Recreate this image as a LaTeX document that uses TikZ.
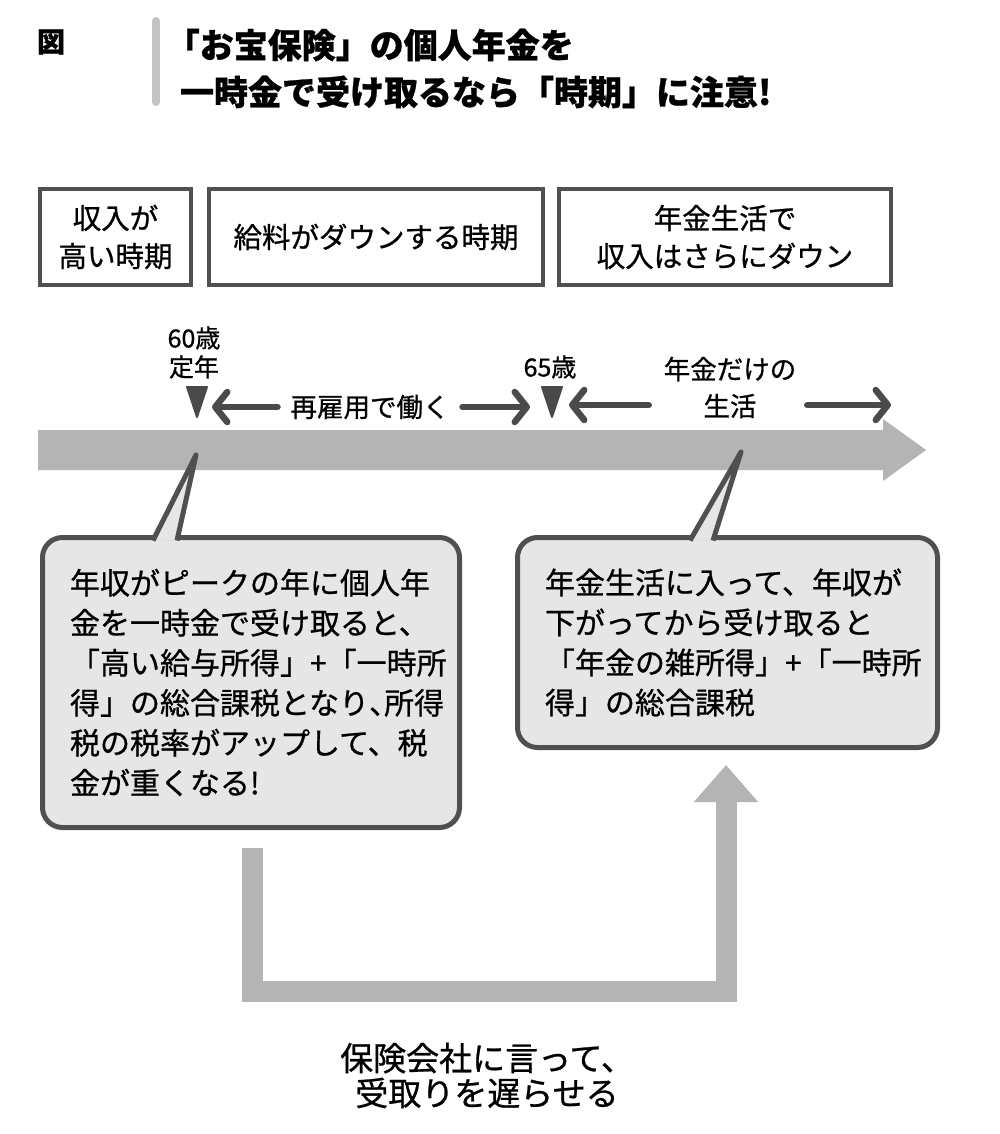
\documentclass[tikz,border=0pt]{standalone}
\usepackage{fontspec}
\setmainfont{Noto Sans CJK JP}[FakeBold=0.8]
\usetikzlibrary{arrows.meta,calc}
\definecolor{bord}{HTML}{505050}
\definecolor{bandc}{HTML}{B4B4B4}
\definecolor{calfill}{HTML}{E6E6E6}
\definecolor{barc}{HTML}{C4C4C4}
\definecolor{darkc}{HTML}{4A4A4A}
\begin{document}
\begin{tikzpicture}[x=1pt,y=-1pt,
  topbox/.style={draw=bord, line width=4.5pt, fill=white, inner sep=0pt, outer sep=0pt, align=center, font=\fontsize{28.5}{38}\selectfont},
  callout/.style={draw=bord, line width=5pt, fill=calfill, rounded corners=20pt, inner sep=0pt, outer sep=0pt, align=left, font=\fontsize{30}{40}\selectfont},
  tail/.style={draw=bord, line width=5pt, fill=calfill, line join=round},
  lbl/.style={inner sep=0pt, outer sep=0pt, align=center},
  darr/.style={draw=darkc, line width=6.5pt, line cap=round, -{Straight Barb[length=12pt,width=30pt,round]}},
  ubar/.style={draw=bandc, line width=21pt, -{Triangle[length=37pt,width=62pt]}},
  tri/.style={fill=darkc, draw=darkc, line width=2pt, line join=round}
]
\useasboundingbox (0,0) rectangle (1000,1134);

% title
\node[lbl, font=\bfseries\fontsize{28}{28}\selectfont] (zu) at (51,42) {図};
\draw[barc, line width=8pt, line cap=round] (156,21) -- (156,102);
\node[lbl, anchor=west, align=left, font=\bfseries\fontsize{34}{47}\selectfont] (title) at (180,68.5)
  {\hspace*{-0.42em}「お宝保険」の個人年金を\\一時金で受け取るなら「時期」に注意!};

% top boxes
\node[topbox, minimum width=151pt, minimum height=96pt] (b1) at (115.5,237) {収入が\\高い時期};
\node[topbox, minimum width=334pt, minimum height=96pt] (b2) at (376,237) {給料がダウンする時期};
\node[topbox, minimum width=332pt, minimum height=96pt] (b3) at (725,237) {年金生活で\\収入はさらにダウン};

% timeline band
\fill[bandc] (38,430) -- (883,430) -- (883,419) -- (926,450) -- (883,481) -- (883,470) -- (38,470) -- cycle;

% markers
\coordinate (t60) at (197,402);
\coordinate (t65) at (552,402);
\filldraw[tri] ($(t60)+(-10,-15)$) -- ($(t60)+(10,-15)$) -- ($(t60)+(0,15)$) -- cycle;
\filldraw[tri] ($(t65)+(-10,-15)$) -- ($(t65)+(10,-15)$) -- ($(t65)+(0,15)$) -- cycle;

\node[lbl, font=\fontsize{25}{29}\selectfont] (l60) at (194,352.5) {60歳\\定年};
\node[lbl, font=\fontsize{25}{29}\selectfont] (l65) at (550,367) {65歳};
\node[lbl, font=\fontsize{26.5}{36}\selectfont] (lwork) at (370,407) {再雇用で働く};
\node[lbl, font=\fontsize{26.5}{37}\selectfont] (lpen) at (730,387.5) {年金だけの\\生活};

\draw[darr] ($(lwork.west)+(-13,0)$) -- ($(t60 |- lwork.west)+(15,0)$);
\draw[darr] ($(lwork.east)+(13,0)$) -- ($(t65 |- lwork.east)+(-22,0)$);
\draw[darr] ($(lpen.west)+(-15,17.5)$) -- ($(t65)+(17,3)$);
\coordinate (tend) at (891,405);
\draw[darr] ($(lpen.east)+(11,17.5)$) -- (tend);

% callouts
\coordinate (p60) at (196,455);
\coordinate (p65) at (741,452);
\node[callout, minimum width=417pt, minimum height=290pt, text width=362pt] (c1) at (251,682.5)
  {年収がピークの年に個人年\\金を一時金で受け取ると、\\「高い給与所得」+「一時所\\得」の総合課税となり\makebox[0.5em][l]{、}所得\\税の税率がアップして、税\\金が重くなる!};
\filldraw[tail] ($(c1.north)+(-98,3)$) -- (p60) -- ($(c1.north)+(-74,3)$);

\node[callout, minimum width=420pt, minimum height=210pt, text width=365pt] (c2) at (727.5,642.5)
  {年金生活に入って、年収が\\下がってから受け取ると\\「年金の雑所得」+「一時所\\得」の総合課税};
\filldraw[tail] ($(c2.north)+(-37.5,3)$) -- (p65) -- ($(c2.north)+(-14.5,3)$);

% U-shaped arrow
\coordinate (ustart) at ($(c1.south)+(1,20)$);
\coordinate (utip) at ($(c2.south)+(-1.5,17.5)$);
\draw[ubar] (ustart) -- ++(0,144) -| (utip);

\node[lbl, font=\fontsize{33}{35}\selectfont] (note) at (487,1075.5) {保険会社に言って、\\受取りを遅らせる};
\end{tikzpicture}
\end{document}
